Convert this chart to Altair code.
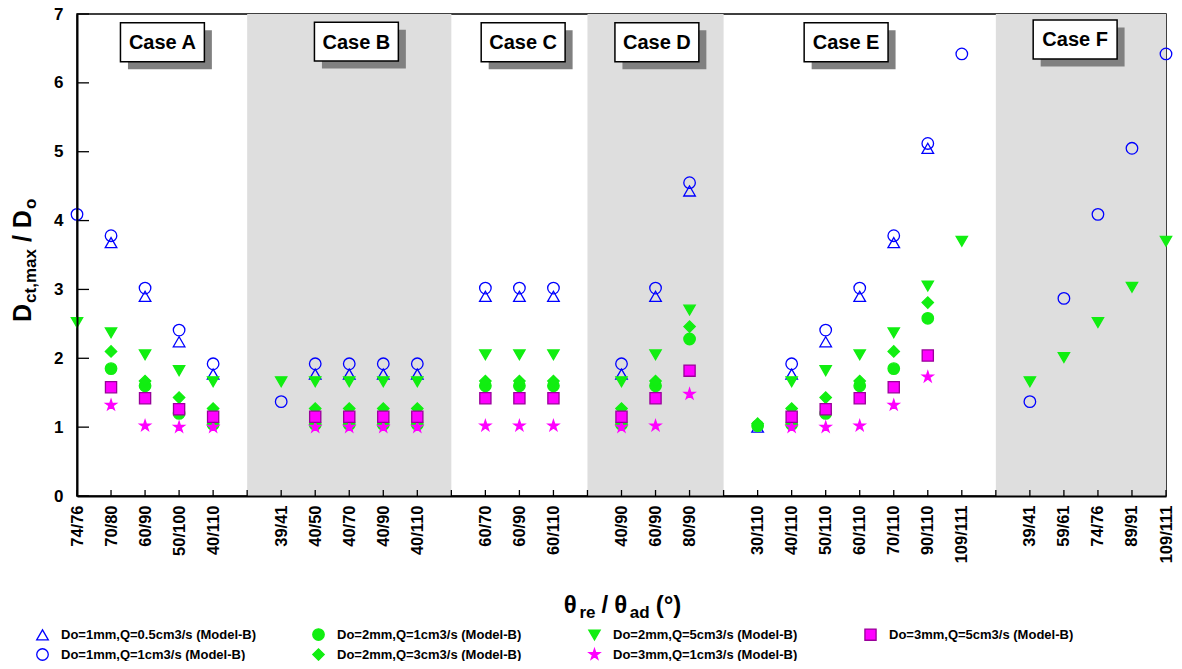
import altair as alt
import pandas as pd

FONT = "Liberation Sans"

tick_labels = ["74/76", "70/80", "60/90", "50/100", "40/110", "",
               "39/41", "40/50", "40/70", "40/90", "40/110", "",
               "60/70", "60/90", "60/110", "",
               "40/90", "60/90", "80/90", "",
               "30/110", "40/110", "50/110", "60/110", "70/110", "90/110", "109/111", "",
               "39/41", "59/61", "74/76", "89/91", "109/111"]

series_names = [
    "Do=1mm,Q=0.5cm3/s (Model-B)",
    "Do=1mm,Q=1cm3/s (Model-B)",
    "Do=2mm,Q=1cm3/s (Model-B)",
    "Do=2mm,Q=3cm3/s (Model-B)",
    "Do=2mm,Q=5cm3/s (Model-B)",
    "Do=3mm,Q=1cm3/s (Model-B)",
    "Do=3mm,Q=5cm3/s (Model-B)",
]

s1_x = [1, 2, 3, 4, 7, 8, 9, 10, 12, 13, 14, 16, 17, 18, 20, 21, 22, 23, 24, 25]
s1_y = [3.68, 2.90, 2.24, 1.77, 1.77, 1.77, 1.77, 1.77, 2.90, 2.90, 2.90, 1.77, 2.90, 4.43, 1.00, 1.77, 2.24, 2.90, 3.68, 5.05]

s2_x = [0, 1, 2, 3, 4, 6, 7, 8, 9, 10, 12, 13, 14, 16, 17, 18, 21, 22, 23, 24, 25, 26, 28, 29, 30, 31, 32]
s2_y = [4.09, 3.78, 3.02, 2.41, 1.92, 1.37, 1.92, 1.92, 1.92, 1.92, 3.02, 3.02, 3.02, 1.92, 3.02, 4.55, 1.92, 2.41, 3.02, 3.78, 5.12, 6.42, 1.37, 2.87, 4.09, 5.05, 6.42]

s3_x = [1, 2, 3, 4, 7, 8, 9, 10, 12, 13, 14, 16, 17, 18, 20, 21, 22, 23, 24, 25]
s3_y = [1.85, 1.60, 1.20, 1.04, 1.04, 1.04, 1.04, 1.04, 1.60, 1.60, 1.60, 1.04, 1.60, 2.28, 1.02, 1.04, 1.20, 1.60, 1.85, 2.58]

s4_x = [1, 2, 3, 4, 7, 8, 9, 10, 12, 13, 14, 16, 17, 18, 20, 21, 22, 23, 24, 25]
s4_y = [2.10, 1.67, 1.43, 1.27, 1.27, 1.27, 1.27, 1.27, 1.67, 1.67, 1.67, 1.27, 1.67, 2.46, 1.05, 1.27, 1.43, 1.67, 2.10, 2.81]

s5_x = [0, 1, 2, 3, 4, 6, 7, 8, 9, 10, 12, 13, 14, 16, 17, 18, 21, 22, 23, 24, 25, 26, 28, 29, 30, 31, 32]
s5_y = [2.52, 2.37, 2.05, 1.82, 1.66, 1.66, 1.66, 1.66, 1.66, 1.66, 2.05, 2.05, 2.05, 1.66, 2.05, 2.70, 1.66, 1.82, 2.05, 2.37, 3.05, 3.70, 1.66, 2.01, 2.52, 3.03, 3.70]

s6_x = [1, 2, 3, 4, 7, 8, 9, 10, 12, 13, 14, 16, 17, 18, 21, 22, 23, 24, 25]
s6_y = [1.32, 1.02, 1.00, 1.00, 1.00, 1.00, 1.00, 1.00, 1.02, 1.02, 1.02, 1.00, 1.02, 1.48, 1.00, 1.00, 1.02, 1.32, 1.73]

s7_x = [1, 2, 3, 4, 7, 8, 9, 10, 12, 13, 14, 16, 17, 18, 21, 22, 23, 24, 25]
s7_y = [1.58, 1.42, 1.26, 1.15, 1.15, 1.15, 1.15, 1.15, 1.42, 1.42, 1.42, 1.15, 1.42, 1.82, 1.15, 1.26, 1.42, 1.58, 2.04]

shade_start = [5, 15, 27]
shade_end = [11, 19, 32]

case_labels = ["Case A", "Case B", "Case C", "Case D", "Case E", "Case F"]
case_x = [2.51, 8.21, 13.11, 17.04, 22.6, 29.33]
case_y = [6.59, 6.60, 6.59, 6.59, 6.59, 6.63]

STAR = "M0,-1L0.2245,-0.309L0.951,-0.309L0.363,0.118L0.588,0.809L0,0.382L-0.588,0.809L-0.363,0.118L-0.951,-0.309L-0.2245,-0.309Z"
shapes = ["triangle-up", "circle", "circle", "diamond", "triangle-down", STAR, "square"]
strokes = ["#0000ff", "#0000ff", "#11ee11", "#11ee11", "#11ee11", "#ff00ff", "#990099"]
fills = ["transparent", "transparent", "#11ee11", "#11ee11", "#11ee11", "#ff00ff", "#ff00ff"]
sizes = [135, 125, 115, 125, 135, 190, 100]

series_data = [(s1_x, s1_y), (s2_x, s2_y), (s3_x, s3_y), (s4_x, s4_y),
               (s5_x, s5_y), (s6_x, s6_y), (s7_x, s7_y)]
rows = []
for name, (xs, ys) in zip(series_names, series_data):
    for xv, yv in zip(xs, ys):
        rows.append({"series": name, "x": xv, "y": yv})
pts = pd.DataFrame(rows)

W, H = 1089, 482

xscale = alt.Scale(domain=[0, 32], nice=False, zero=False)
yscale = alt.Scale(domain=[0, 7], nice=False, zero=False)

label_expr = "[" + ",".join("'%s'" % t for t in tick_labels) + "][datum.value]"
xaxis = alt.Axis(values=list(range(33)), labelExpr=label_expr, labelAngle=-90,
                 ticks=False, grid=False, title=None, domainColor="black",
                 domainWidth=2, labelFont=FONT, labelFontWeight="bold",
                 labelFontSize=16.5, labelColor="black", labelPadding=9,
                 labelOverlap=False, labelFlush=False, zindex=1)
yaxis = alt.Axis(values=list(range(8)), ticks=False, grid=False, title=None,
                 domainColor="black", domainWidth=2, labelFont=FONT,
                 labelFontWeight="bold", labelFontSize=17, labelColor="black",
                 labelPadding=14, labelFlush=False, format="d", zindex=1)

X = alt.X("x:Q", scale=xscale, axis=xaxis)
Y = alt.Y("y:Q", scale=yscale, axis=yaxis)

shade = alt.Chart(pd.DataFrame({"x": shade_start, "x2": shade_end})).mark_rect(
    color="#dedede").encode(x=X, x2="x2:Q", y=alt.value(0), y2=alt.value(H + 1))

xt = alt.Chart(pd.DataFrame({"x": list(range(33))})).mark_rule(
    color="black", strokeWidth=1.3).encode(x=X, y=alt.value(H), y2=alt.value(H - 6))
yt = alt.Chart(pd.DataFrame({"y": list(range(8))})).mark_rule(
    color="black", strokeWidth=1.3).encode(y=Y, x=alt.value(0), x2=alt.value(12))

leg = alt.Legend(title=None, orient="none", legendX=-41, legendY=614, columns=4,
                 gridAlign="all", columnPadding=53, rowPadding=3,
                 labelFont=FONT, labelFontSize=13, labelFontWeight="bold",
                 labelColor="black", labelLimit=400, labelOffset=12,
                 symbolStrokeWidth=1.3)

points = alt.Chart(pts).mark_point(opacity=1, strokeWidth=1.3).encode(
    x=X, y=Y,
    shape=alt.Shape("series:N", scale=alt.Scale(domain=series_names, range=shapes), legend=leg),
    stroke=alt.Stroke("series:N", scale=alt.Scale(domain=series_names, range=strokes), legend=leg),
    fill=alt.Fill("series:N", scale=alt.Scale(domain=series_names, range=fills), legend=leg),
    size=alt.Size("series:N", scale=alt.Scale(domain=series_names, range=sizes), legend=leg),
)

HX, HY = 1.233, 0.282
boxes_df = pd.DataFrame({
    "x": [c - HX for c in case_x], "x2": [c + HX for c in case_x],
    "y": [c - HY for c in case_y], "y2": [c + HY for c in case_y],
})
shadow = alt.Chart(boxes_df).mark_rect(color="#808080", xOffset=7.5, x2Offset=7.5,
                                       yOffset=7.5, y2Offset=7.5).encode(
    x=X, x2="x2:Q", y=Y, y2="y2:Q")
boxes = alt.Chart(boxes_df).mark_rect(fill="white", stroke="black", strokeWidth=1.5).encode(
    x=X, x2="x2:Q", y=Y, y2="y2:Q")
texts = alt.Chart(pd.DataFrame({"x": case_x, "y": case_y, "t": case_labels})).mark_text(
    font=FONT, fontSize=20, fontWeight="bold", color="black", baseline="middle",
    align="center", dy=1).encode(x=X, y=Y, text="t:N")

# axis titles with subscripts, built from text pieces (text, font size, baseline shift, gap after)
EM = {"θ": 0.61, "r": 0.389, "e": 0.556, "a": 0.556, "d": 0.611, "/": 0.278,
      "(": 0.333, ")": 0.333, "°": 0.4, "D": 0.722, "c": 0.556, "t": 0.333, ",": 0.278,
      "m": 0.889, "x": 0.556, "o": 0.611}


def tw(s, fs):
    return sum(EM.get(ch, 0.556) for ch in s) * fs


title_layers = []
xt_pieces = [("θ", 24, 0, 1), ("re", 17, 5, 6), ("/", 24, 0, 6), ("θ", 24, 0, 1),
             ("ad", 17, 5, 6), ("(°)", 24, 0, 0)]
total = sum(tw(s, f) + g for s, f, _, g in xt_pieces)
cx = W / 2 + 1 - total / 2
base = 599
for s, f, sh, g in xt_pieces:
    title_layers.append(
        alt.Chart(pd.DataFrame({"a": [0]})).mark_text(
            text=s, font=FONT, fontSize=f, fontWeight="bold", color="black",
            align="left", baseline="alphabetic").encode(
            x=alt.value(cx), y=alt.value(base + sh)))
    cx += tw(s, f) + g

yt_pieces = [("D", 25, 0, 1), ("ct,max", 17, 5, 7), ("/", 25, 0, 7), ("D", 25, 0, 1), ("o", 17, 5, 0)]
cy = 308
bx = -46
for s, f, sh, g in yt_pieces:
    title_layers.append(
        alt.Chart(pd.DataFrame({"a": [0]})).mark_text(
            text=s, font=FONT, fontSize=f, fontWeight="bold", color="black",
            align="left", baseline="alphabetic", angle=270).encode(
            x=alt.value(bx + sh), y=alt.value(cy)))
    cy -= tw(s, f) + g

chart = alt.layer(shade, xt, yt, points, shadow, boxes, texts, *title_layers).properties(
    width=W, height=H,
    autosize=alt.AutoSizeParams(type="none"),
    padding={"left": 69, "top": 6, "right": 8, "bottom": 165},
    background="white",
).configure_view(stroke="black", strokeWidth=1.5)

chart.save("out.html", embed_options={"renderer": "svg", "actions": False})
